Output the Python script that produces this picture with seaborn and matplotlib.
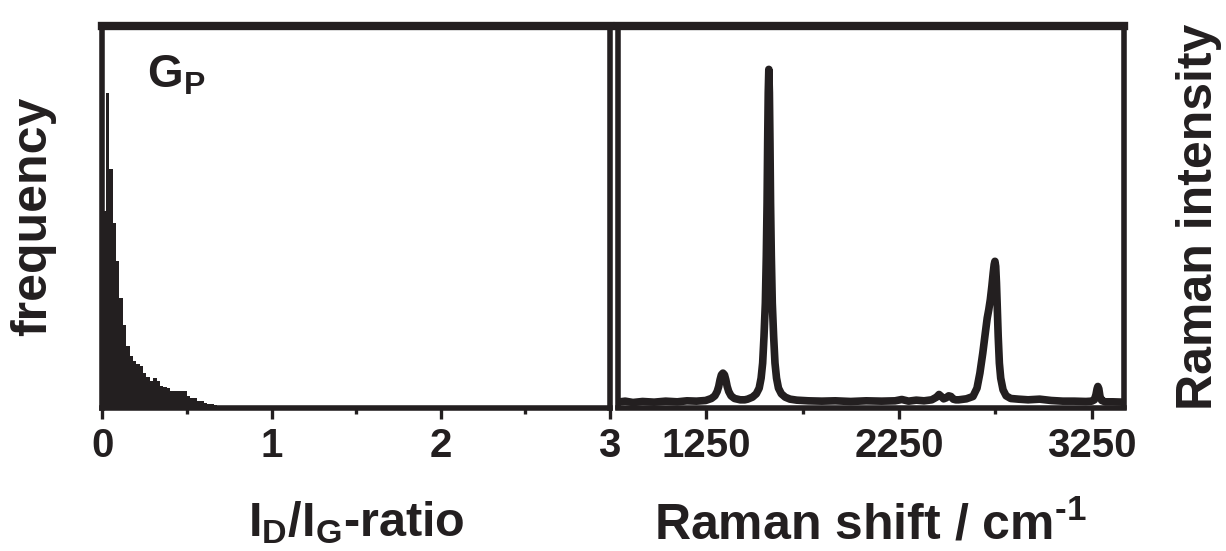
import numpy as np
import pandas as pd
import matplotlib
matplotlib.use("Agg")
import matplotlib.pyplot as plt
import seaborn as sns

# ---- histogram of I_D/I_G ratios (bin width 0.02, counts per bin) ----
bin_width = 0.02
ratio_counts = [197, 315, 239, 185, 147, 110, 83, 62, 52, 47, 44, 42, 35, 31, 27,
                30, 27, 22, 21, 20, 17, 17, 17, 17, 17, 12, 10, 10, 7, 7, 5, 4, 4, 3, 2]
ratio_ticks = [0, 1, 2, 3]
ratio_minor = [0.5, 1.5, 2.5]

# ---- averaged Raman spectrum (normalised to the G band) ----
shift = [790, 830, 870, 920, 980, 1040, 1100, 1150, 1200,
         1247, 1277, 1295, 1307, 1315, 1322, 1329, 1337, 1345, 1352, 1359, 1367, 1379, 1397, 1427, 1450,
         1465, 1490, 1510, 1525, 1535, 1543, 1550, 1557, 1562, 1566, 1569, 1572, 1575,
         1578, 1581, 1584, 1588, 1593, 1600, 1607, 1615, 1625, 1640, 1660, 1685,
         1720, 1780, 1850, 1920, 2000, 2080, 2160, 2230, 2265, 2300, 2340, 2380,
         2420, 2445, 2458, 2470, 2482, 2495, 2508, 2520, 2532, 2545, 2560, 2600,
         2634, 2655, 2670, 2685, 2698, 2708, 2716, 2724, 2732, 2739, 2744, 2748,
         2752, 2756, 2760, 2765, 2771, 2778, 2790, 2806, 2830, 2870, 2920, 2980,
         3040, 3100, 3160, 3220, 3250, 3264, 3272, 3278, 3282, 3287, 3293, 3302,
         3320, 3360, 3415]
intensity = [0.003, 0.006, 0.002, 0.005, 0.003, 0.006, 0.004, 0.007, 0.006,
             0.008, 0.014, 0.022, 0.035, 0.05, 0.07, 0.085, 0.09, 0.085, 0.07, 0.05, 0.035, 0.022, 0.014, 0.01, 0.01,
             0.012, 0.018, 0.028, 0.045, 0.075, 0.12, 0.2, 0.3, 0.44, 0.6, 0.78, 0.93, 1.0,
             0.93, 0.78, 0.6, 0.44, 0.3, 0.2, 0.12, 0.075, 0.045, 0.028, 0.018, 0.012,
             0.009, 0.007, 0.006, 0.007, 0.005, 0.007, 0.006, 0.007, 0.011, 0.006, 0.009, 0.007,
             0.01, 0.018, 0.026, 0.02, 0.013, 0.016, 0.022, 0.02, 0.012, 0.01, 0.01, 0.013,
             0.02, 0.045, 0.09, 0.15, 0.21, 0.255, 0.28, 0.31, 0.35, 0.39, 0.415, 0.425,
             0.41, 0.36, 0.29, 0.2, 0.12, 0.075, 0.04, 0.022, 0.014, 0.012, 0.01, 0.012,
             0.008, 0.006, 0.006, 0.005, 0.006, 0.01, 0.025, 0.043, 0.05, 0.043, 0.02, 0.008,
             0.004, 0.004, 0.003]
shift_ticks = [1250, 2250, 3250]
shift_minor = [1750, 2750]

INK = "#231f20"

sns.set_theme(style="white")
plt.rcParams.update({
    "font.family": ["Liberation Sans", "DejaVu Sans"],
    "font.weight": "bold",
    "axes.labelweight": "bold",
    "mathtext.fontset": "custom",
    "mathtext.rm": "Liberation Sans:bold",
    "mathtext.it": "Liberation Sans:bold",
    "mathtext.bf": "Liberation Sans:bold",
    "mathtext.default": "rm",
    "axes.edgecolor": INK,
    "text.color": INK,
    "xtick.color": INK,
    "axes.labelcolor": INK,
})

fig = plt.figure(figsize=(12.26, 5.51), dpi=100)
W, H = 1226.0, 551.0
ax1 = fig.add_axes([102.5 / W, (H - 407.5) / H, (609.6 - 102.5) / W, 381.5 / H])
ax2 = fig.add_axes([617.5 / W, (H - 407.5) / H, (1123.5 - 617.5) / W, 381.5 / H])

# histogram panel
n_bins = len(ratio_counts)
hist_df = pd.DataFrame({
    "ratio": (np.arange(n_bins) + 0.5) * bin_width,
    "count": ratio_counts,
})
sns.histplot(data=hist_df, x="ratio", weights="count", binwidth=bin_width,
             binrange=(0, n_bins * bin_width), ax=ax1,
             color=INK, alpha=1.0, linewidth=0, element="bars")
ax1.set_xlim(0, 3)
ax1.set_ylim(0, 381.5)
ax1.set_xticks(ratio_ticks)
ax1.set_xticklabels([str(t) for t in ratio_ticks])
ax1.set_xticks(ratio_minor, minor=True)
ax1.set_yticks([])
ax1.set_xlabel(r"$I_D/I_G$-ratio", fontsize=35, fontweight="bold", labelpad=25)
ax1.set_ylabel("frequency", fontsize=36, fontweight="bold", va="center")
ax1.yaxis.set_label_coords((33 - 102.5) / 507.1, 0.5)
ax1.text(0.088, 0.8375, r"$G_P$", transform=ax1.transAxes, fontsize=33,
         ha="left", va="baseline")

# spectrum panel
sns.lineplot(x=shift, y=intensity, ax=ax2, color=INK, linewidth=5.5,
             solid_capstyle="round", solid_joinstyle="round")
ax2.set_xlim(790, 3415)
ax2.set_ylim(-0.013, 1.13)
ax2.set_xticks(shift_ticks)
ax2.set_xticklabels([str(t) for t in shift_ticks])
ax2.set_xticks(shift_minor, minor=True)
ax2.set_yticks([])
ax2.set_xlabel(r"Raman shift / cm$^{\text{-1}}$", fontsize=36, fontweight="bold",
               labelpad=26)
ax2.set_ylabel("Raman intensity", fontsize=36, fontweight="bold", va="center")
ax2.yaxis.set_label_coords((1199 - 617.5) / 506.0, 0.5)

for ax in (ax1, ax2):
    for side, sp in ax.spines.items():
        sp.set_visible(True)
        sp.set_color(INK)
        sp.set_linewidth(4.0)
    ax.spines["top"].set_linewidth(6.0)
    ax.tick_params(axis="x", which="major", direction="out", length=8, width=2.4,
                   labelsize=29, pad=6, bottom=True, colors=INK)
    ax.tick_params(axis="x", which="minor", direction="out", length=4.5, width=2.4,
                   bottom=True, colors=INK)
    for lab in ax.get_xticklabels():
        lab.set_fontweight("bold")
    ax.grid(False)

fig.savefig("out.png", dpi=100)
